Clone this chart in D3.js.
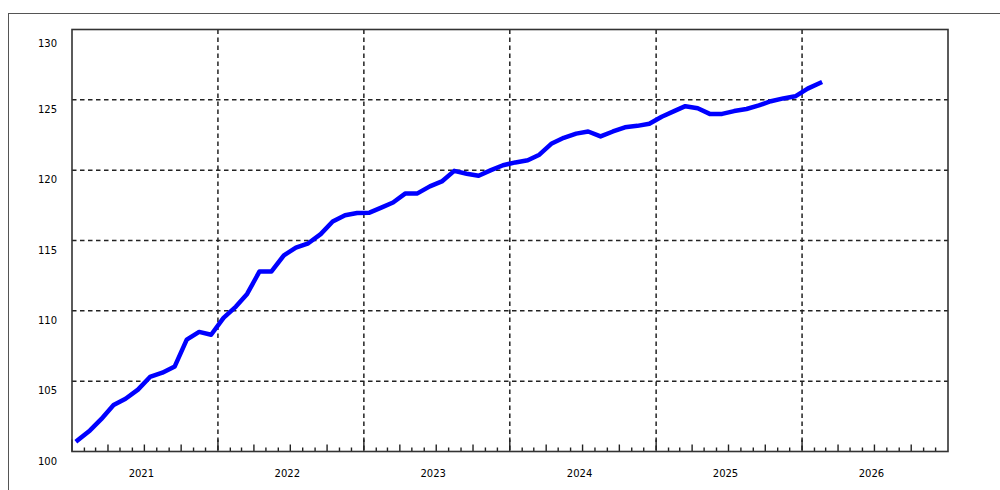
<!DOCTYPE html>
<html>
<head>
<meta charset="utf-8">
<script src="https://cdn.jsdelivr.net/npm/d3@7"></script>
<style>
  html, body { margin: 0; padding: 0; background: #fff; }
  svg { display: block; }
</style>
</head>
<body>
<svg id="chart" width="1000" height="490"></svg>
<script>
// ---- data ----
const startMonth = "2021-01";
const values = [
  100.8, 101.5, 102.3, 103.3, 103.75, 104.4, 105.3, 105.6, 106.05, 107.95, 108.5, 108.3,
  109.5, 110.3, 111.2, 112.8, 112.8, 113.95, 114.5, 114.8, 115.45, 116.35, 116.8, 116.95,
  116.98, 117.35, 117.7, 118.35, 118.35, 118.85, 119.2, 119.95, 119.75, 119.6, 120.0, 120.35,
  120.55, 120.7, 121.1, 121.9, 122.3, 122.6, 122.75, 122.4, 122.75, 123.05, 123.15, 123.3,
  123.8, 124.2, 124.55, 124.4, 124.0, 124.0, 124.2, 124.35, 124.6, 124.9, 125.1, 125.25,
  125.8, 126.2
];
const yTicks = [100, 105, 110, 115, 120, 125, 130];
const yearLabels = ["2021", "2022", "2023", "2024", "2025", "2026"];

// ---- layout ----
const svg = d3.select("#chart");
const L = 72, R = 948, T = 29.5, B = 451.5;

const x = d3.scaleTime()
  .domain([new Date(2021, 0, 1), new Date(2027, 0, 1)])
  .range([L, R]);
const y = d3.scaleLinear().domain([100, 130]).range([B, T]);

const [sy, sm] = startMonth.split("-").map(Number);
const data = values.map((v, i) => ({
  date: new Date(sy, sm - 1 + i, 15),
  value: v
}));

// outer frame
svg.append("line").attr("x1", 8).attr("x2", 1000).attr("y1", 13.5).attr("y2", 13.5)
  .attr("stroke", "#555").attr("stroke-width", 1);
svg.append("line").attr("x1", 8.5).attr("x2", 8.5).attr("y1", 13).attr("y2", 490)
  .attr("stroke", "#555").attr("stroke-width", 1);

// gridlines
const g = svg.append("g");
yTicks.filter(v => v > 100 && v < 130).forEach(v => {
  g.append("line").attr("x1", L).attr("x2", R).attr("y1", y(v)).attr("y2", y(v))
    .attr("stroke", "#222").attr("stroke-width", 1.5).attr("stroke-dasharray", "4.5,3.5");
});
const years = d3.timeYear.range(new Date(2022, 0, 1), new Date(2027, 0, 1));
years.forEach(d => {
  g.append("line").attr("x1", x(d)).attr("x2", x(d)).attr("y1", T).attr("y2", B)
    .attr("stroke", "#222").attr("stroke-width", 1.5).attr("stroke-dasharray", "4.5,3.5");
});

// ticks at bottom (monthly, quarterly, yearly)
const months = d3.timeMonth.range(new Date(2021, 0, 1), new Date(2027, 0, 1));
months.forEach(d => {
  const m = d.getMonth();
  const len = m === 0 ? 12 : (m % 3 === 0 ? 7 : 4);
  svg.append("line").attr("x1", x(d)).attr("x2", x(d)).attr("y1", B).attr("y2", B - len)
    .attr("stroke", "#222").attr("stroke-width", 1.4);
});

// plot border
svg.append("rect").attr("x", L).attr("y", T).attr("width", R - L).attr("height", B - T)
  .attr("fill", "none").attr("stroke", "#333").attr("stroke-width", 1.6);

// y labels
svg.append("g").selectAll("text").data(yTicks).join("text")
  .attr("x", 57)
  .attr("y", v => Math.max(y(v) + 9.5, T + 14))
  .attr("dy", "0.35em")
  .attr("text-anchor", "end")
  .attr("font-family", "DejaVu Sans, sans-serif")
  .attr("font-size", 10)
  .attr("fill", "#000")
  .text(v => v);

// x year labels
svg.append("g").selectAll("text").data(yearLabels).join("text")
  .attr("x", s => x(new Date(+s, 6, 1)) - 3)
  .attr("y", 473)
  .attr("dy", "0.35em")
  .attr("text-anchor", "middle")
  .attr("font-family", "DejaVu Sans, sans-serif")
  .attr("font-size", 10)
  .attr("fill", "#000")
  .text(s => s);

// data line
const line = d3.line().x(d => x(d.date)).y(d => y(d.value));
svg.append("path").datum(data)
  .attr("d", line)
  .attr("fill", "none")
  .attr("stroke", "#0000ff")
  .attr("stroke-width", 4.5)
  .attr("stroke-linejoin", "round")
  .attr("stroke-linecap", "square");
</script>
</body>
</html>
